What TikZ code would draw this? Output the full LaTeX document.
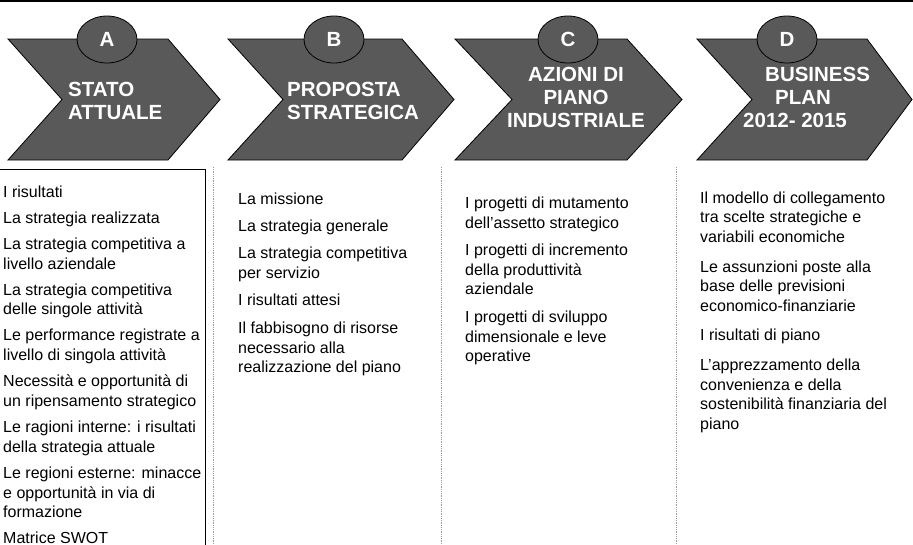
\documentclass[tikz,border=0pt]{standalone}
\usepackage{fontspec}
\setmainfont{Liberation Sans}
\usetikzlibrary{shapes.geometric}
\definecolor{phaseGray}{HTML}{595959}
\definecolor{ruleGray}{HTML}{9A9A9A}

\tikzset{
  chevron/.style={draw=black, line width=0.8pt, fill=phaseGray, line join=miter},
  badge/.style={ellipse, draw=black, line width=0.8pt, fill=phaseGray, minimum width=60pt,
    minimum height=47pt, inner sep=0pt, text=white, font=\bfseries\fontsize{20.5}{23}\selectfont},
  phasetitle/.style={text=white, font=\bfseries\fontsize{20.5}{23}\selectfont, inner sep=0pt},
  itemlist/.style={align=left, anchor=north west, inner sep=0pt, font=\fontsize{16}{19.8}\selectfont},
  divider/.style={draw=ruleGray, line width=0.8pt, densely dotted}
}

\begin{document}
\begin{tikzpicture}[x=1pt, y=-1pt]
  \useasboundingbox (0,0) rectangle (913,544);

  % top rule
  \draw[line width=2pt] (0,1) -- (913,1);

  % phase arrows
  \draw[chevron] (8,39) -- (168,39) -- (220,99.5) -- (168,160) -- (8,160) -- (62,99.5) -- cycle;
  \draw[chevron] (228,39) -- (402,39) -- (454,99.5) -- (402,160) -- (228,160) -- (283,99.5) -- cycle;
  \draw[chevron] (455,39) -- (627,39) -- (682,99.5) -- (627,160) -- (455,160) -- (512,99.5) -- cycle;
  \draw[chevron] (697,39) -- (867,39) -- (912,99.5) -- (867,160) -- (697,160) -- (752,99.5) -- cycle;

  \node[badge] (badgeA) at (107,39.5) {A};
  \node[badge] (badgeB) at (334,39.5) {B};
  \node[badge] (badgeC) at (568,39.5) {C};
  \node[badge] (badgeD) at (787,39.5) {D};

  \node[phasetitle, align=left, anchor=north west] (titleA) at (68,82) {STATO\\ATTUALE};
  \node[phasetitle, align=left, anchor=north west] (titleB) at (287,82) {PROPOSTA\\STRATEGICA};
  \node[phasetitle, align=center, anchor=north] (titleC) at (576,67) {AZIONI DI\\PIANO\\INDUSTRIALE};
  \node[phasetitle, align=left, anchor=north west] (titleD) at (743,67)
    {\hspace*{22pt}BUSINESS\\\hspace*{32pt}PLAN\\2012- 2015};

  % frame of the first column and dotted separators
  \draw[line width=0.9pt] (-5,169) -- (205,169) -- (205,550);
  \draw[divider] (213,167) -- (213,546);
  \draw[divider] (441,167) -- (441,546);
  \draw[divider] (676,167) -- (676,546);

  % contents of each phase
  \node[itemlist] (listA) at (3,185.5) {I risultati\\[6.2pt]
    La strategia realizzata\\[6.2pt]
    La strategia competitiva a\\livello aziendale\\[6.2pt]
    La strategia competitiva\\delle singole attività\\[6.2pt]
    Le performance registrate a\\livello di singola attività\\[6.2pt]
    Necessità e opportunità di\\un ripensamento strategico\\[6.2pt]
    Le ragioni interne: i risultati\\della strategia attuale\\[6.2pt]
    Le regioni esterne: minacce\\e opportunità in via di\\formazione\\[6.2pt]
    Matrice SWOT};
  \node[itemlist] (listB) at (238,192.5) {La missione\\[7.5pt]
    La strategia generale\\[7.5pt]
    La strategia competitiva\\per servizio\\[7.5pt]
    I risultati attesi\\[7.5pt]
    Il fabbisogno di risorse\\necessario alla\\realizzazione del piano};
  \node[itemlist] (listC) at (465,196.5) {I progetti di mutamento\\dell'assetto strategico\\[7.5pt]
    I progetti di incremento\\della produttività\\aziendale\\[7.5pt]
    I progetti di sviluppo\\dimensionale e leve\\operative};
  \node[itemlist] (listD) at (700,191.3) {Il modello di collegamento\\tra scelte strategiche e\\variabili economiche\\[9.5pt]
    Le assunzioni poste alla\\base delle previsioni\\economico-finanziarie\\[9.5pt]
    I risultati di piano\\[9.5pt]
    L'apprezzamento della\\convenienza e della\\sostenibilità finanziaria del\\piano};
\end{tikzpicture}
\end{document}
